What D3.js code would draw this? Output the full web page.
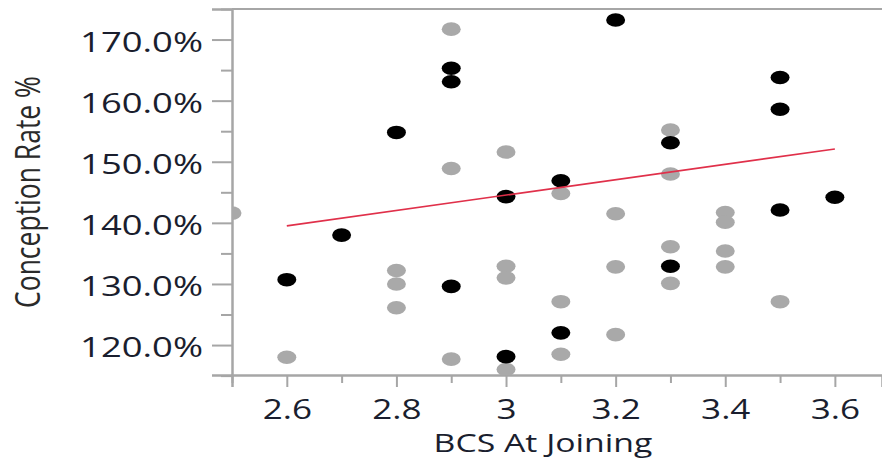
<!DOCTYPE html>
<html>
<head>
<meta charset="utf-8">
<script src="https://cdn.jsdelivr.net/npm/d3@7"></script>
<style>
  html, body { margin: 0; padding: 0; background: #fff; }
  svg { display: block; }
  text { font-family: "Open Sans", "Noto Sans", sans-serif; }
</style>
</head>
<body>
<svg id="chart" width="882" height="461"></svg>
<script>
// BCS at joining vs conception rate, two groups plus a linear fit
const blackBCS  = [2.6, 2.7, 2.8, 2.9, 2.9, 2.9, 3.0, 3.0, 3.1, 3.1, 3.2, 3.3, 3.3, 3.5, 3.5, 3.5, 3.6];
const blackRate = [130.7, 138.0, 154.8, 165.3, 163.1, 129.6, 144.3, 118.1, 146.9, 122.0, 173.2, 153.1, 132.9, 163.8, 158.6, 142.1, 144.2];

const grayBCS  = [2.5, 2.6, 2.8, 2.8, 2.8, 2.9, 2.9, 2.9, 3.0, 3.0, 3.0, 3.0, 3.1, 3.1, 3.1, 3.2, 3.2, 3.2, 3.3, 3.3, 3.3, 3.3, 3.4, 3.4, 3.4, 3.4, 3.5];
const grayRate = [141.6, 118.0, 132.2, 130.0, 126.1, 171.7, 148.9, 117.7, 151.6, 132.9, 131.0, 116.0, 144.8, 127.1, 118.5, 141.5, 132.8, 121.7, 155.2, 148.0, 136.1, 130.1, 141.7, 140.1, 135.4, 132.8, 127.1];

const fitBCS  = [2.6, 3.6];
const fitRate = [139.5, 152.1];

const xTickValues = [2.6, 2.8, 3.0, 3.2, 3.4, 3.6];
const xTickLabels = ["2.6", "2.8", "3", "3.2", "3.4", "3.6"];
const xMinorTicks = [2.5, 2.7, 2.9, 3.1, 3.3, 3.5];
const yTickValues = [120, 130, 140, 150, 160, 170];
const yTickLabels = ["120.0%", "130.0%", "140.0%", "150.0%", "160.0%", "170.0%"];
const yMinorTicks = [115, 125, 135, 145, 155, 165, 175];

const xTitle = "BCS At Joining";
const yTitle = "Conception Rate %";

const plot = { left: 232, top: 9, right: 882, bottom: 375 };
const stretch = 1.3;   // wide text aspect
const axisColor = "#a6a6a6";

const svg = d3.select("#chart");

const x = d3.scaleLinear().domain([2.5, 3.686]).range([plot.left, plot.right]);
const y = d3.scaleLinear().domain([115.1, 175]).range([plot.bottom, plot.top]);

// clip region for marks
svg.append("defs").append("clipPath").attr("id", "plotClip")
  .append("rect")
  .attr("x", plot.left).attr("y", plot.top)
  .attr("width", plot.right - plot.left).attr("height", plot.bottom - plot.top);

// frame: top border
svg.append("line")
  .attr("x1", plot.left).attr("x2", plot.right)
  .attr("y1", plot.top).attr("y2", plot.top)
  .attr("stroke", axisColor).attr("stroke-width", 2);

// left axis
const yAxis = d3.axisLeft(y).tickValues(yTickValues)
  .tickFormat((d, i) => yTickLabels[i]).tickSize(20).tickPadding(0);
const gy = svg.append("g").attr("transform", `translate(${plot.left},0)`).call(yAxis);
gy.select(".domain").attr("stroke", axisColor).attr("stroke-width", 2.5);
gy.selectAll(".tick line").attr("stroke", axisColor).attr("stroke-width", 2);
gy.selectAll(".tick text")
  .attr("x", null).attr("dy", null)
  .attr("dominant-baseline", "central")
  .attr("transform", `translate(-29,1) scale(${stretch},1)`)
  .attr("fill", "#1a1e2e").attr("font-size", 28);

const gyMinor = svg.append("g").attr("transform", `translate(${plot.left},0)`)
  .call(d3.axisLeft(y).tickValues(yMinorTicks).tickFormat("").tickSize(11));
gyMinor.select(".domain").remove();
gyMinor.selectAll(".tick line").attr("stroke", axisColor).attr("stroke-width", 2);

// bottom axis
const xAxis = d3.axisBottom(x).tickValues(xTickValues)
  .tickFormat((d, i) => xTickLabels[i]).tickSize(12).tickPadding(0);
const gx = svg.append("g").attr("transform", `translate(0,${plot.bottom})`).call(xAxis);
gx.select(".domain").attr("stroke", axisColor).attr("stroke-width", 2.5);
gx.selectAll(".tick line").attr("stroke", axisColor).attr("stroke-width", 2);
gx.selectAll(".tick text")
  .attr("y", null).attr("dy", null)
  .attr("dominant-baseline", "central")
  .attr("transform", `translate(0,34) scale(${stretch},1)`)
  .attr("fill", "#1a1e2e").attr("font-size", 27);

const gxMinor = svg.append("g").attr("transform", `translate(0,${plot.bottom})`)
  .call(d3.axisBottom(x).tickValues(xMinorTicks).tickFormat("").tickSize(8));
gxMinor.select(".domain").remove();
gxMinor.selectAll(".tick line").attr("stroke", axisColor).attr("stroke-width", 2);

// axis titles
svg.append("text")
  .attr("transform", `translate(543,442) scale(${stretch},1)`)
  .attr("text-anchor", "middle").attr("dominant-baseline", "central")
  .attr("font-size", 26).attr("fill", "#1a1e2e")
  .text(xTitle);

svg.append("text")
  .attr("transform", `translate(27,192) scale(${stretch},1) rotate(-90)`)
  .attr("text-anchor", "middle").attr("dominant-baseline", "central")
  .attr("font-size", 26.5).attr("fill", "#2a2a2a")
  .text(yTitle);

// marks
const marks = svg.append("g").attr("clip-path", "url(#plotClip)");

marks.selectAll("ellipse.gray")
  .data(grayBCS.map((b, i) => [b, grayRate[i]]))
  .join("ellipse").attr("class", "gray")
  .attr("cx", d => x(d[0])).attr("cy", d => y(d[1]))
  .attr("rx", 9.5).attr("ry", 6.8)
  .attr("fill", "#a9a9a9");

marks.selectAll("ellipse.black")
  .data(blackBCS.map((b, i) => [b, blackRate[i]]))
  .join("ellipse").attr("class", "black")
  .attr("cx", d => x(d[0])).attr("cy", d => y(d[1]))
  .attr("rx", 9.5).attr("ry", 6.8)
  .attr("fill", "#000");

marks.append("path")
  .datum(fitBCS.map((b, i) => [b, fitRate[i]]))
  .attr("d", d3.line().x(d => x(d[0])).y(d => y(d[1])))
  .attr("fill", "none").attr("stroke", "#e0304a").attr("stroke-width", 1.6);
</script>
</body>
</html>
